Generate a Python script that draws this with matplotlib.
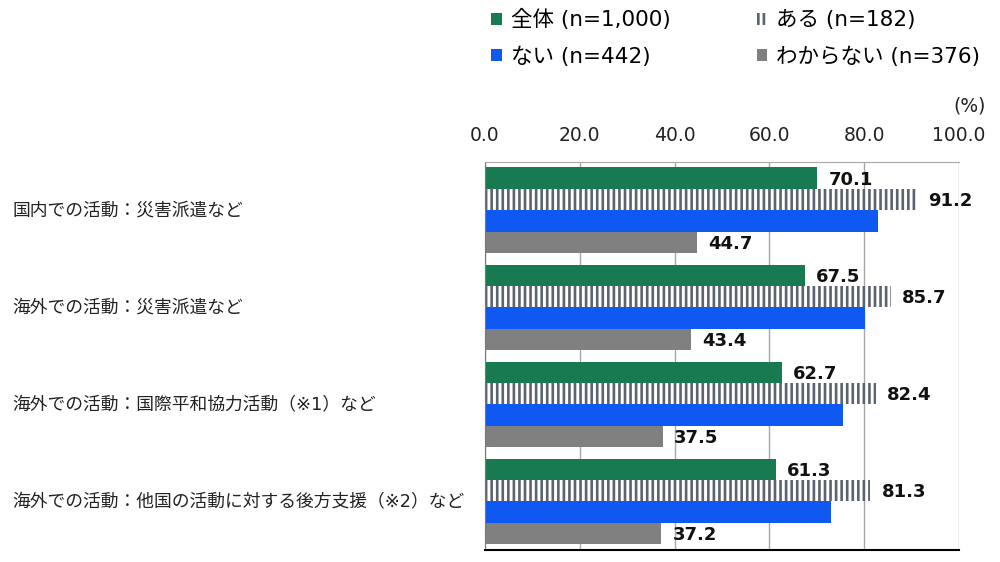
import numpy as np
import matplotlib.pyplot as plt
from matplotlib.patches import Patch

plt.rcParams['font.family'] = ['DejaVu Sans', 'Noto Sans CJK JP']
plt.rcParams['hatch.linewidth'] = 1.9
plt.rcParams['hatch.color'] = '#5c6370'

categories = ['国内での活動：災害派遣など',
              '海外での活動：災害派遣など',
              '海外での活動：国際平和協力活動（※1）など',
              '海外での活動：他国の活動に対する後方支援（※2）など']
series_names = ['全体 (n=1,000)', 'ある (n=182)', 'ない (n=442)', 'わからない (n=376)']
zentai = [70.1, 67.5, 62.7, 61.3]
aru = [91.2, 85.7, 82.4, 81.3]
nai = [82.9, 80.2, 75.5, 73.1]
wakaranai = [44.7, 43.4, 37.5, 37.2]
xticks = [0, 20, 40, 60, 80, 100]

fig = plt.figure(figsize=(10, 5.62), dpi=100)
ax = fig.add_axes([0.485, 0.0214, 0.474, 0.691])

y = np.arange(len(categories))
h = 0.22

b1 = ax.barh(y - 1.5*h, zentai, height=h, color='#177a50')
b2 = ax.barh(y - 0.5*h, aru, height=h, color='white', hatch='|||', edgecolor='#5c6370', linewidth=0)
b3 = ax.barh(y + 0.5*h, nai, height=h, color='#1058f2')
b4 = ax.barh(y + 1.5*h, wakaranai, height=h, color='#808080')

# labels on all except blue
for bars, vals in [(b1, zentai), (b2, aru), (b4, wakaranai)]:
    for bar, v in zip(bars, vals):
        ax.annotate(f'{v:.1f}', (v, bar.get_y() + bar.get_height()/2),
                    xytext=(8, -1), textcoords='offset points',
                    ha='left', va='center', fontsize=13, fontweight='bold', color='#111111')

ax.set_xlim(0, 100)
ax.set_ylim(3.5, -0.5)
ax.set_xticks(xticks)
ax.set_xticklabels([f'{t:.1f}' for t in xticks], fontsize=13.5, color='#222222')
ax.xaxis.tick_top()
ax.tick_params(axis='x', length=0, pad=12)
ax.set_yticks(y)
ax.set_yticklabels([])
ax.tick_params(axis='y', length=0)
ax.grid(axis='x', color='#a8a8a8', linewidth=1)
ax.set_axisbelow(True)

ax.spines['right'].set_visible(False)
ax.spines['top'].set_color('#a8a8a8')
ax.spines['left'].set_color('#777777')
ax.spines['bottom'].set_color('black')
ax.spines['bottom'].set_linewidth(1.5)

for yi, c in zip(y, categories):
    fig.text(0.012, ax.transData.transform((0, yi))[1] / fig.bbox.height, c,
             ha='left', va='center', fontsize=12.8, color='#222222')

fig.text(0.986, 0.812, '(%)', ha='right', va='center', fontsize=13.5, color='#222222')

handles = [Patch(facecolor='#177a50'),
           Patch(facecolor='white', hatch='|||', edgecolor='#5c6370', linewidth=0),
           Patch(facecolor='#1058f2'),
           Patch(facecolor='#808080')]
order = [0, 2, 1, 3]
fig.legend([handles[i] for i in order], [series_names[i] for i in order],
           loc='upper left', bbox_to_anchor=(0.472, 1.018), ncol=2, frameon=False,
           fontsize=15.5, handlelength=0.5, handleheight=0.5, handletextpad=0.4,
           columnspacing=4.0, labelspacing=0.75)

fig.savefig('out.png', dpi=100)
